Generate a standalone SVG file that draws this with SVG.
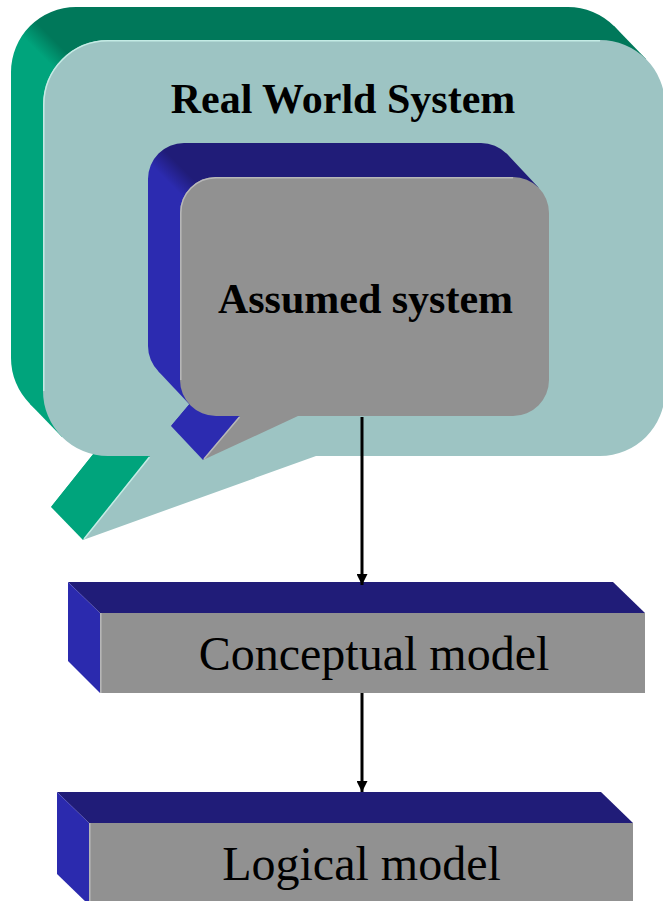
<svg xmlns="http://www.w3.org/2000/svg" width="663" height="901" viewBox="0 0 663 901">
  <style>
    .teal { fill: #9dc4c3; }
    .gray { fill: #919191; }
    .btop { fill: #201c78; }
    .bleft { fill: #2b2aae; }
    .hl-teal { fill: none; stroke: #c4ebe5; stroke-width: 1.5; }
    .hl-gray { fill: none; stroke: #b8b8b8; stroke-width: 1.5; }
    .title { font-family: "Liberation Serif", "Times New Roman", serif; font-weight: bold; font-size: 42px; fill: #000; text-anchor: middle; }
    .label { font-family: "Liberation Serif", "Times New Roman", serif; font-size: 48px; fill: #000; text-anchor: middle; }
    .conn { stroke: #000; stroke-width: 3; fill: none; }
  </style>
  <defs>
    <linearGradient id="gGreen" gradientUnits="userSpaceOnUse" x1="33" y1="47" x2="47" y2="33">
      <stop offset="0" stop-color="#00a47c"/>
      <stop offset="1" stop-color="#00785a"/>
    </linearGradient>
    <linearGradient id="gBlue" gradientUnits="userSpaceOnUse" x1="172" y1="186" x2="186" y2="172">
      <stop offset="0" stop-color="#2c2bb0"/>
      <stop offset="1" stop-color="#201c78"/>
    </linearGradient>
    <marker id="arrow" markerUnits="userSpaceOnUse" markerWidth="11" markerHeight="11" refX="11" refY="5.5" orient="auto">
      <path d="M0,0 L11,5.5 L0,11 Z" fill="#000"/>
    </marker>
  </defs>

  <g id="real-world-system">
    <g fill="url(#gGreen)">
      <path d="M 76,7 H 568 A 65 65 0 0 1 633,72 V 358 A 65 65 0 0 1 568,423 H 284 L 51,507 L 118,423 H 76 A 65 65 0 0 1 11,358 V 72 A 65 65 0 0 1 76,7 Z"/>
      <polygon points="76,358 30,404 62,437 108,391"/>
      <polygon points="568,72 614,26 646,59 600,105"/>
      <polygon points="150,456 83,540 51,507 118,423"/>
    </g>
    <path class="teal" d="M 108,40 H 600 A 65 65 0 0 1 665,105 V 391 A 65 65 0 0 1 600,456 H 316 L 83,540 L 150,456 H 108 A 65 65 0 0 1 43,391 V 105 A 65 65 0 0 1 108,40 Z"/>
    <path class="hl-teal" d="M 43.8,391 V 105 A 64 64 0 0 1 108,40.8 H 600"/>
    <path class="hl-teal" d="M 149.5,457 L 84,539"/>
    <text class="title" x="343" y="113">Real World System</text>
  </g>

  <g id="assumed-system">
    <g fill="url(#gBlue)">
      <path d="M 184,143 H 481 A 36 36 0 0 1 517,179 V 346 A 36 36 0 0 1 481,382 H 266 L 171,426 L 208,382 H 184 A 36 36 0 0 1 148,346 V 179 A 36 36 0 0 1 184,143 Z"/>
      <polygon points="184,346 158.5,371.5 190.5,405.5 216,380"/>
      <polygon points="481,179 506.5,153.5 538.5,187.5 513,213"/>
      <polygon points="240,416 203,460 171,426 208,382"/>
    </g>
    <path class="gray" d="M 216,177 H 513 A 36 36 0 0 1 549,213 V 380 A 36 36 0 0 1 513,416 H 298 L 203,460 L 240,416 H 216 A 36 36 0 0 1 180,380 V 213 A 36 36 0 0 1 216,177 Z"/>
    <path class="hl-gray" d="M 180.8,380 V 213 A 35 35 0 0 1 216,177.8 H 513"/>
    <path class="hl-gray" d="M 239.5,417 L 204,459"/>
    <text class="title" x="365.5" y="313">Assumed system</text>
  </g>

  <g id="conceptual-model">
    <polygon class="btop" points="68,582 613,582 645,613 100,613"/>
    <polygon class="bleft" points="68,582 100,613 100,693 68,661"/>
    <rect class="gray" x="100" y="613" width="545" height="80"/>
    <line class="hl-gray" x1="100.8" y1="613" x2="100.8" y2="693"/>
    <text class="label" x="374" y="670">Conceptual model</text>
  </g>

  <g id="logical-model">
    <polygon class="btop" points="57,792 601,792 633,823 89,823"/>
    <polygon class="bleft" points="57,792 89,823 89,905 57,874"/>
    <rect class="gray" x="89" y="823" width="544" height="82"/>
    <line class="hl-gray" x1="89.8" y1="823" x2="89.8" y2="905"/>
    <text class="label" x="361.5" y="880">Logical model</text>
  </g>

  <g id="connectors">
    <line class="conn" x1="362" y1="417" x2="362" y2="585" marker-end="url(#arrow)"/>
    <line class="conn" x1="362" y1="693" x2="362" y2="792" marker-end="url(#arrow)"/>
  </g>
</svg>
